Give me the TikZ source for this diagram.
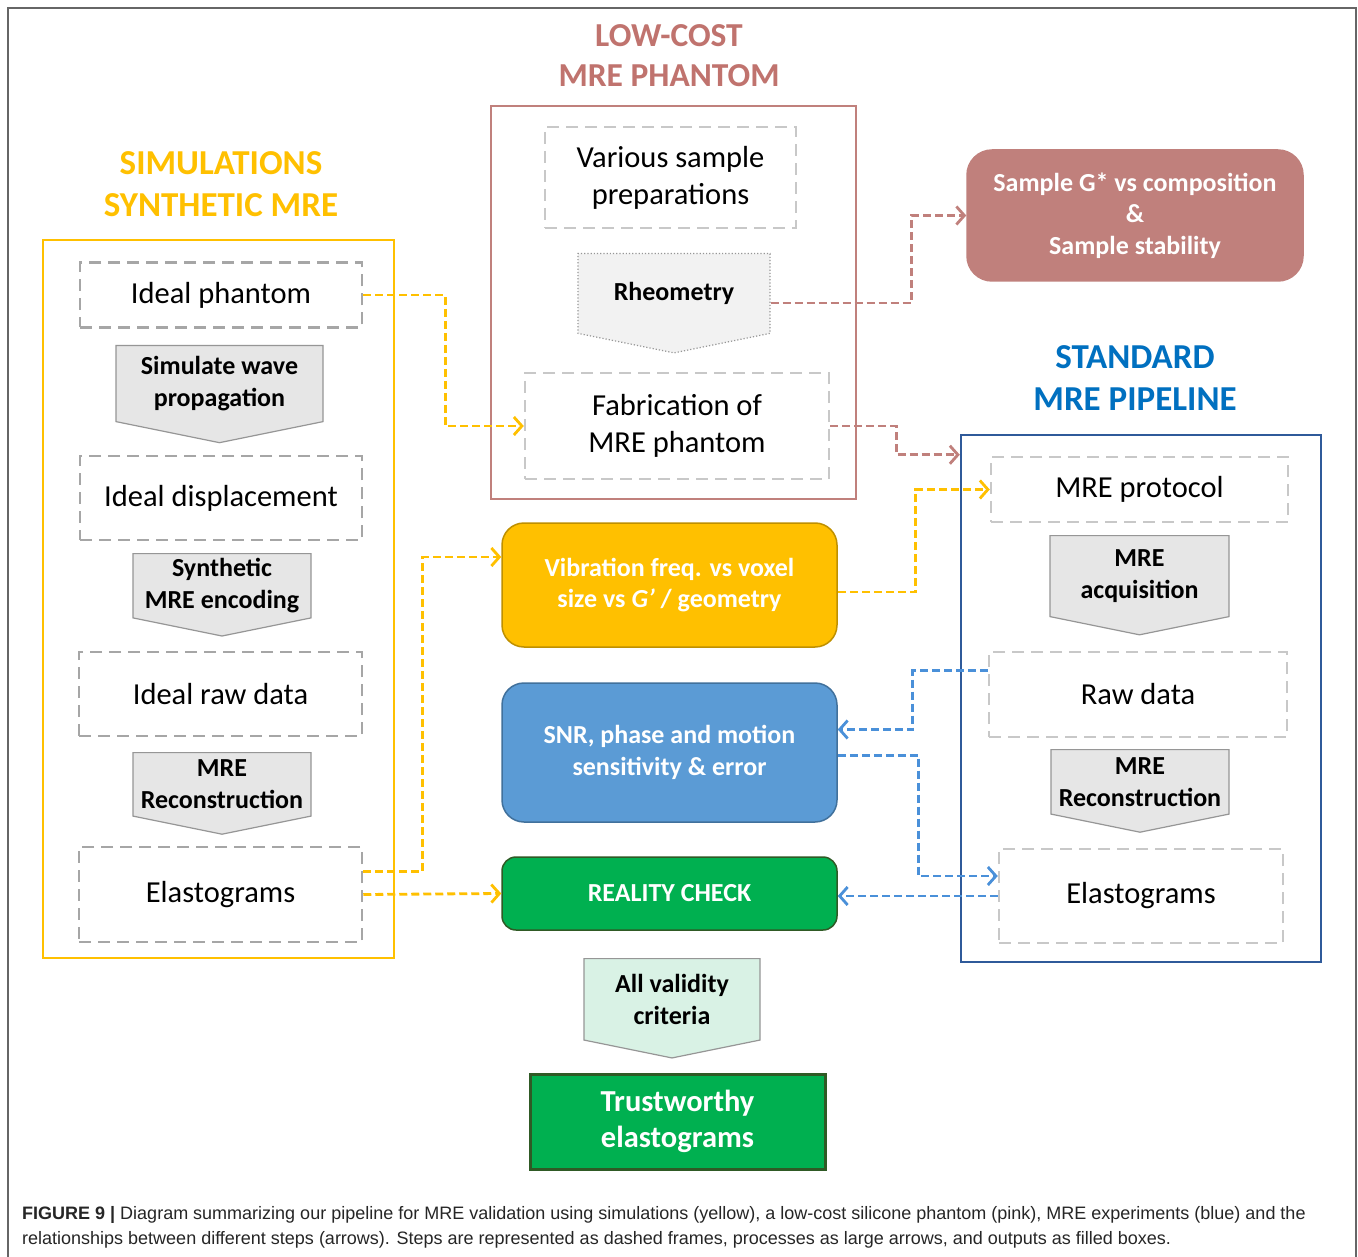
\documentclass[tikz,border=0pt]{standalone}
\usepackage{fontspec}
\setmainfont{Carlito}
\newfontfamily\capfont{Liberation Sans}
\usepackage{tikz}
\usetikzlibrary{shapes,arrows,arrows.meta}
\usetikzlibrary{positioning}

\definecolor{simyellow}{HTML}{FFC000}
\definecolor{simborder}{HTML}{BF9000}
\definecolor{phanpink}{HTML}{C0807C}
\definecolor{phanred}{HTML}{C0736E}
\definecolor{stdblue}{HTML}{0070C0}
\definecolor{stdline}{HTML}{2F5A9A}
\definecolor{snrblue}{HTML}{5B9BD5}
\definecolor{snrborder}{HTML}{41719C}
\definecolor{linkblue}{HTML}{4A90D9}
\definecolor{checkgreen}{HTML}{00B050}
\definecolor{darkgreen}{HTML}{2F5A25}
\definecolor{stepgrey}{HTML}{A6A6A6}
\definecolor{steplight}{HTML}{C8C8C8}
\definecolor{procfill}{HTML}{E6E6E6}
\definecolor{procline}{HTML}{969696}
\definecolor{validfill}{HTML}{D9F2E5}

\tikzstyle{grouptitle} = [align=center, font=\fontsize{35}{42}\selectfont\bfseries]
\tikzstyle{groupframe} = [rectangle, draw, line width=2.8pt, inner sep=0pt]
\tikzstyle{stepbox} = [
    rectangle, draw=stepgrey, line width=2.5pt, dash pattern=on 12pt off 7pt,
    inner sep=0pt, align=center, font=\fontsize{30.5}{37}\selectfont]
\tikzstyle{procarrow} = [
    signal, signal to=south, signal pointer angle=157, draw=procline, fill=procfill,
    line width=1.2pt, inner sep=0pt, align=center, anchor=north,
    font=\fontsize{26}{32}\selectfont\bfseries]
\tikzstyle{outbox} = [
    rectangle, rounded corners=22pt, line width=1.5pt, text=white, inner sep=0pt,
    align=center, font=\fontsize{26}{31.5}\selectfont\bfseries]
\tikzstyle{arrow} = [line width=2.8pt, dash pattern=on 8pt off 4pt, -{Straight Barb[length=8pt,width=18pt]}]

\begin{document}
\begin{tikzpicture}[x=1pt, y=-1pt]
\useasboundingbox (0,0) rectangle (1358,1257);
\fill [white] (0,0) rectangle (1358,1257);
\draw [line width=1.5pt, draw=black!60] (8,1257) -- (8,8) -- (1356,8) -- (1356,1257);

\node (simtitle) [grouptitle, text=simyellow] at (221,184) {SIMULATIONS\\SYNTHETIC MRE};
\node (phantitle) [grouptitle, text=phanred, font=\fontsize{33.5}{40}\selectfont\bfseries] at (669,56) {LOW-COST\\MRE PHANTOM};
\node (stdtitle) [grouptitle, text=stdblue] at (1135,378) {STANDARD\\MRE PIPELINE};

\node (simframe) [groupframe, draw=simyellow, minimum width=351pt, minimum height=718pt] at (218.5,599) {};
\node (phanframe) [groupframe, draw=phanpink, line width=2.5pt, minimum width=365pt, minimum height=393pt] at (673.5,302.5) {};
\node (stdframe) [groupframe, draw=stdline, line width=2.5pt, minimum width=360pt, minimum height=527pt] at (1141,698.5) {};

\node (phantom) [stepbox, minimum width=282pt, minimum height=65pt] at (221,295) {Ideal phantom};
\node (simwave) [procarrow, minimum width=207pt, minimum height=92pt] at (219.5,345) {Simulate wave\\propagation};
\node (displ) [stepbox, minimum width=282pt, minimum height=84pt] at (221,498) {Ideal displacement};
\node (synth) [procarrow, minimum width=178pt, minimum height=80pt] at (222,553) {Synthetic\\MRE encoding};
\node (rawideal) [stepbox, minimum width=283pt, minimum height=84pt] at (220.5,694) {Ideal raw data};
\node (reconL) [procarrow, minimum width=178pt, minimum height=80pt] at (222,752) {MRE\\Reconstruction};
\node (elastoL) [stepbox, minimum width=283pt, minimum height=95pt] at (220.5,894.5) {Elastograms};

\node (various) [stepbox, draw=steplight, minimum width=251pt, minimum height=101pt] at (670.5,177.5) {Various sample\\preparations};
\node (rheo) [procarrow, dotted, fill=procfill!50, minimum width=192pt, minimum height=92pt] at (674,253) {Rheometry};
\node (fab) [stepbox, draw=steplight, minimum width=304pt, minimum height=106pt] at (677,426) {Fabrication of\\MRE phantom};

\node (sample) [outbox, fill=phanpink, draw=phanpink, rounded corners=25pt, minimum width=336pt, minimum height=131pt] at (1135,215.5) {Sample G* vs composition\\\&\\Sample stability};
\node (vib) [outbox, fill=simyellow, draw=simborder, minimum width=335pt, minimum height=124pt] at (669.5,585) {Vibration freq. vs voxel\\size vs \textit{G’} / geometry};
\node (snr) [outbox, fill=snrblue, draw=snrborder, minimum width=335pt, minimum height=139pt] at (669.5,752.5) {SNR, phase and motion\\sensitivity \& error};
\node (reality) [outbox, fill=checkgreen, draw=darkgreen, rounded corners=14pt, minimum width=335pt, minimum height=73pt] at (669.5,893.5) {REALITY CHECK};
\node (valid) [procarrow, fill=validfill, minimum width=176pt, minimum height=93pt] at (672,958) {All validity\\criteria};
\node (trust) [rectangle, fill=checkgreen, draw=darkgreen, line width=3pt, text=white, inner sep=0pt, align=center,
    font=\fontsize{30.5}{36}\selectfont\bfseries, minimum width=295pt, minimum height=95pt] at (677.5,1121.5) {Trustworthy\\elastograms};

\node (protocol) [stepbox, draw=steplight, minimum width=297pt, minimum height=65pt] at (1139.5,489.5) {MRE protocol};
\node (acq) [procarrow, minimum width=179pt, minimum height=93pt] at (1139.5,535) {MRE\\acquisition};
\node (rawdata) [stepbox, draw=steplight, minimum width=298pt, minimum height=85pt] at (1138,694.5) {Raw data};
\node (reconR) [procarrow, minimum width=178pt, minimum height=81pt] at (1140,749) {MRE\\Reconstruction};
\node (elastoR) [stepbox, draw=steplight, minimum width=284pt, minimum height=94pt] at (1141,896) {Elastograms};

\draw [arrow, simyellow] (phantom.east) -- ++(82,0) |- (fab.west);
\draw [arrow, phanpink] ([yshift=-50pt]rheo.north east) -- ++(141,0) |- (sample.west);
\draw [arrow, phanpink] (fab.east) -- ++(66,0) |- ([yshift=-21pt]stdframe.north west);
\draw [arrow, simyellow] ([yshift=-7pt]vib.east) -- ++(78,0) |- (protocol.west);
\draw [arrow, simyellow] ([yshift=23pt]elastoL.east) -- ++(59,0) |- ([yshift=28pt]vib.west);
\draw [arrow, simyellow] (elastoL.east) -- (reality.west);
\draw [arrow, linkblue] ([yshift=24pt]rawdata.west) -- ++(-75,0) |- ([yshift=23pt]snr.east);
\draw [arrow, linkblue] ([yshift=-3pt]snr.east) -- ++(81,0) |- ([yshift=20pt]elastoR.west);
\draw [arrow, linkblue] (elastoR.west) -- (elastoR.west -| reality.east);

\node (cap1) [anchor=base west, inner sep=0pt, text=black!85, font=\capfont\fontsize{18}{21}\selectfont] at (22,1219)
    {\textbf{FIGURE 9 |} Diagram summarizing our pipeline for MRE validation using simulations (yellow), a low-cost silicone phantom (pink), MRE experiments (blue) and the};
\node (cap2) [anchor=base west, inner sep=0pt, text=black!85, font=\capfont\fontsize{18}{21}\selectfont] at ([yshift=-25pt]cap1.base west)
    {relationships between different steps (arrows). Steps are represented as dashed frames, processes as large arrows, and outputs as filled boxes.};
\end{tikzpicture}
\end{document}
